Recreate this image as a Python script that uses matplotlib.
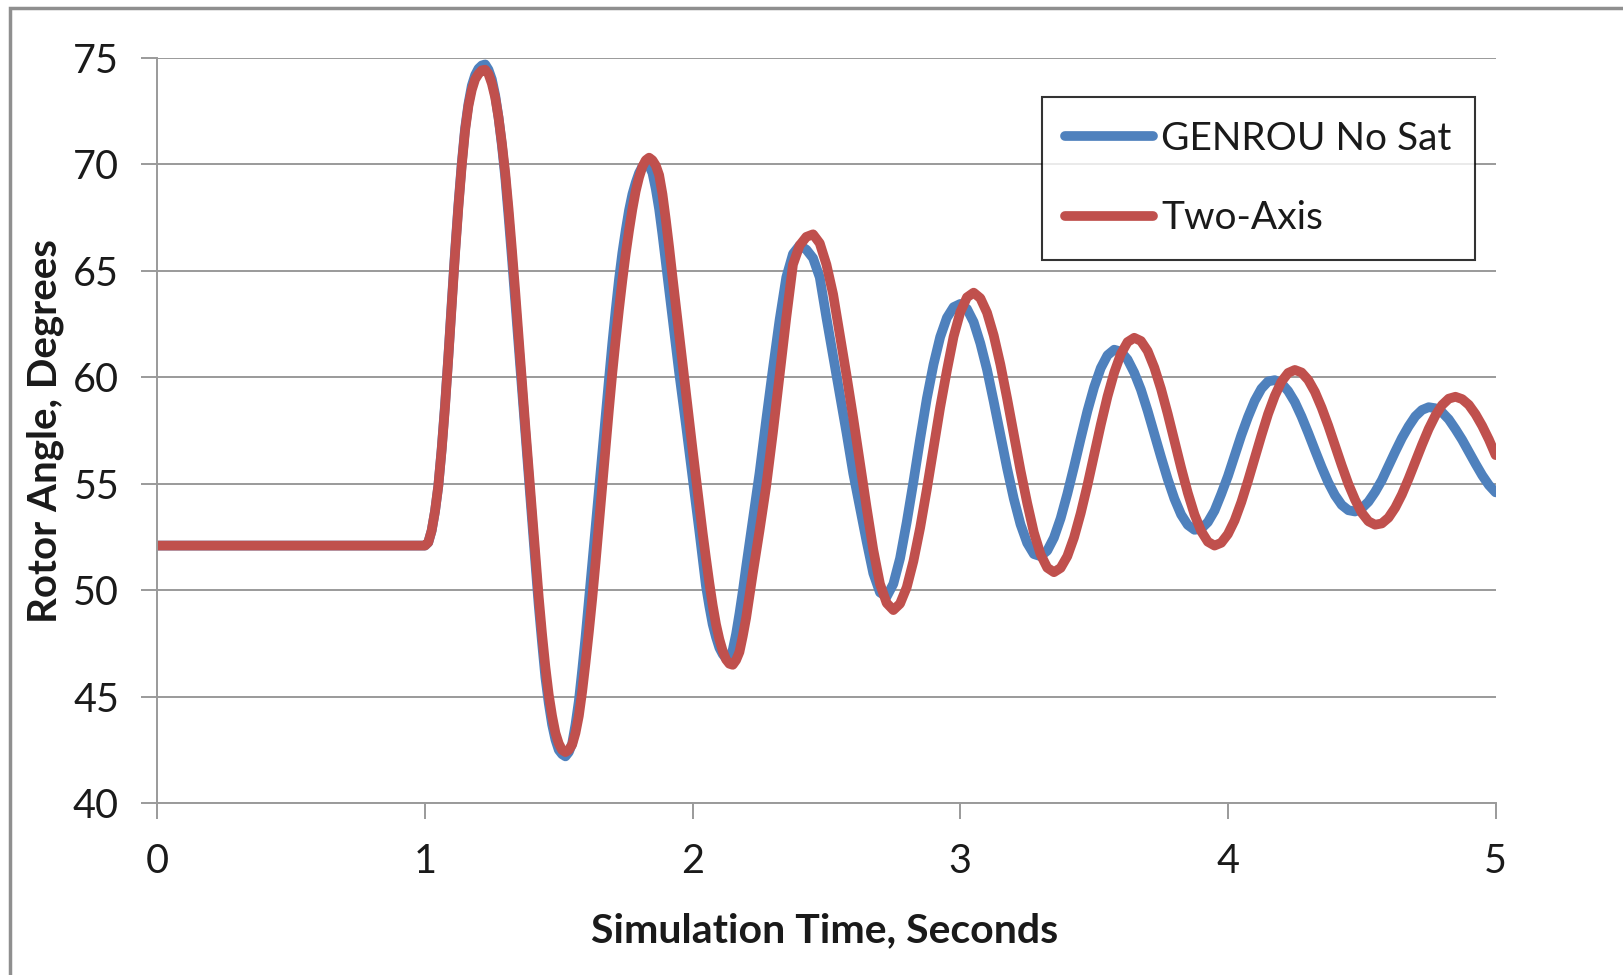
import matplotlib.pyplot as plt
from matplotlib.patches import Rectangle

plt.rcParams['font.family'] = ['Lato', 'DejaVu Sans']

# sample times in seconds: one point before the fault, every 0.0125 s over the
# big first swings (1.0 - 2.1875), then every 0.025 s up to 5 s
time_s = ([0.0]
          + [round(1.0 + 0.0125 * i, 4) for i in range(96)]
          + [round(2.2 + 0.025 * i, 3) for i in range(113)])

# rotor angle in degrees
genrou_no_sat = [
    52.1,
    # 1.0 - 2.1875, step 0.0125 (one row = 0.1 s)
    52.1, 52.25, 52.8, 53.7, 54.9, 56.65, 58.7, 61.0,
    63.5, 65.9, 68.1, 70.05, 71.7, 72.85, 73.7, 74.2,
    74.5, 74.65, 74.7, 74.45, 74.0, 73.25, 72.2, 70.9,
    69.4, 67.55, 65.6, 63.55, 61.5, 59.45, 57.4, 55.35,
    53.3, 51.3, 49.3, 47.55, 45.9, 44.7, 43.7, 42.98,
    42.5, 42.3, 42.2, 42.4, 42.8, 43.7, 44.8, 46.25,
    47.8, 49.5, 51.2, 52.95, 54.7, 56.45, 58.2, 59.9,
    61.6, 63.15, 64.6, 65.85, 66.9, 67.85, 68.6, 69.15,
    69.6, 69.9, 70.05, 69.95, 69.6, 68.85, 67.9, 66.7,
    65.4, 64.1, 62.8, 61.5, 60.2, 59.0, 57.8, 56.55,
    55.3, 54.05, 52.8, 51.5, 50.2, 49.25, 48.4, 47.8,
    47.3, 47.0, 46.8, 46.85, 47.2, 47.95, 48.9, 49.95,
    # 2.2 - 5.0, step 0.025 (one row = 0.2 s)
    51.1, 53.3, 55.5, 58.0, 60.4, 62.7, 64.7, 65.8,
    66.2, 66.0, 65.6, 64.7, 62.8, 61.0, 59.2, 57.4,
    55.5, 53.9, 52.3, 50.8, 49.9, 49.7, 50.3, 51.5,
    53.2, 55.1, 57.1, 59.0, 60.6, 61.9, 62.8, 63.3,
    63.45, 63.22, 62.6, 61.6, 60.36, 58.86, 57.29, 55.73,
    54.3, 53.1, 52.22, 51.7, 51.6, 51.86, 52.47, 53.38,
    54.53, 55.8, 57.13, 58.42, 59.54, 60.44, 61.04, 61.3,
    61.21, 60.84, 60.22, 59.42, 58.43, 57.34, 56.26, 55.22,
    54.3, 53.56, 53.07, 52.84, 52.89, 53.2, 53.74, 54.52,
    55.36, 56.32, 57.28, 58.14, 58.9, 59.47, 59.81, 59.87,
    59.72, 59.36, 58.84, 58.16, 57.39, 56.58, 55.79, 55.06,
    54.46, 54.01, 53.76, 53.7, 53.85, 54.16, 54.62, 55.17,
    55.84, 56.51, 57.15, 57.7, 58.17, 58.47, 58.6, 58.55,
    58.36, 58.03, 57.57, 57.07, 56.5, 55.94, 55.4, 54.94,
    54.6,
]

two_axis = [
    52.1,
    # 1.0 - 2.1875, step 0.0125
    52.1, 52.25, 52.8, 53.7, 54.9, 56.6, 58.6, 60.95,
    63.4, 65.8, 68.0, 69.95, 71.6, 72.75, 73.5, 74.0,
    74.25, 74.42, 74.45, 74.25, 73.8, 73.15, 72.2, 71.0,
    69.6, 67.9, 66.0, 64.0, 61.9, 59.8, 57.7, 55.7,
    53.7, 51.65, 49.7, 47.95, 46.4, 45.1, 44.1, 43.3,
    42.8, 42.5, 42.4, 42.5, 42.75, 43.3, 44.1, 45.25,
    46.6, 48.05, 49.6, 51.3, 53.1, 54.9, 56.7, 58.5,
    60.2, 61.75, 63.2, 64.55, 65.8, 66.9, 67.9, 68.75,
    69.4, 69.9, 70.2, 70.32, 70.2, 69.95, 69.5, 68.6,
    67.4, 66.1, 64.7, 63.35, 62.0, 60.65, 59.3, 57.95,
    56.6, 55.3, 54.0, 52.7, 51.5, 50.35, 49.3, 48.4,
    47.7, 47.15, 46.75, 46.55, 46.5, 46.72, 47.1, 47.85,
    # 2.2 - 5.0, step 0.025
    48.7, 50.8, 52.8, 54.9, 57.4, 60.1, 62.8, 65.3,
    66.2, 66.6, 66.72, 66.3, 65.3, 63.9, 62.0, 60.1,
    58.1, 56.0, 53.9, 51.9, 50.3, 49.4, 49.07, 49.37,
    50.14, 51.37, 52.93, 54.74, 56.68, 58.6, 60.32, 61.91,
    63.06, 63.76, 63.98, 63.72, 63.04, 61.97, 60.6, 59.01,
    57.31, 55.63, 54.1, 52.71, 51.69, 51.06, 50.85, 51.05,
    51.6, 52.48, 53.62, 54.93, 56.36, 57.78, 59.1, 60.22,
    61.1, 61.66, 61.86, 61.71, 61.24, 60.46, 59.46, 58.29,
    57.02, 55.76, 54.58, 53.56, 52.78, 52.28, 52.1, 52.23,
    52.64, 53.28, 54.14, 55.14, 56.2, 57.27, 58.28, 59.13,
    59.8, 60.21, 60.35, 60.23, 59.88, 59.32, 58.58, 57.73,
    56.8, 55.87, 54.99, 54.25, 53.64, 53.24, 53.08, 53.14,
    53.41, 53.88, 54.5, 55.24, 56.03, 56.83, 57.58, 58.21,
    58.7, 59.0, 59.09, 58.98, 58.71, 58.27, 57.72, 57.08,
    56.35,
]

x_ticks = [0, 1, 2, 3, 4, 5]
y_ticks = [40, 45, 50, 55, 60, 65, 70, 75]

grey = '#9a9a9a'
text_col = '#1a1a1a'

fig = plt.figure(figsize=(16.23, 9.75), dpi=100)
ax = fig.add_axes([0.0969, 0.1762, 0.8246, 0.7643])

ax.plot(time_s, genrou_no_sat, color='#4F81BD', lw=7, label='GENROU No Sat',
        solid_joinstyle='round', solid_capstyle='round')
ax.plot(time_s, two_axis, color='#C0504D', lw=7, label='Two-Axis',
        solid_joinstyle='round', solid_capstyle='round')

ax.set_xlim(0, 5)
ax.set_ylim(40, 75)
ax.set_xticks(x_ticks)
ax.set_yticks(y_ticks)
ax.yaxis.grid(True, color=grey, lw=1.4)
ax.set_axisbelow(True)

for side in ['top', 'right']:
    ax.spines[side].set_visible(False)
for side in ['left', 'bottom']:
    ax.spines[side].set_color(grey)
    ax.spines[side].set_linewidth(1.4)

ax.tick_params(axis='both', color=grey, width=1.4, length=11.5,
               labelsize=28.5, labelcolor=text_col)
ax.tick_params(axis='x', pad=17.5)
ax.tick_params(axis='y', pad=16)

fig.text(0.028, 0.558, 'Rotor Angle, Degrees', rotation=90, ha='center', va='center',
         fontsize=29, fontweight='bold', color=text_col)
fig.text(0.508, 0.0456, 'Simulation Time, Seconds', ha='center', va='center',
         fontsize=29.5, fontweight='bold', color=text_col)

leg = ax.legend(loc='upper left', bbox_to_anchor=(0.642, 0.9002), bbox_transform=fig.transFigure,
                fontsize=28, frameon=True, fancybox=False, edgecolor='black',
                handlelength=2.26, handletextpad=0.2, labelspacing=1.12,
                borderpad=0.6, borderaxespad=0)
leg.get_frame().set_linewidth(1.5)
for t in leg.get_texts():
    t.set_color(text_col)

# grey outer frame of the chart area (only left and top edges show in the crop)
fig.add_artist(Rectangle((0.0064, -0.5), 2, 1.4915, transform=fig.transFigure,
                         fill=False, edgecolor='#8f8f8f', lw=2.5))

fig.savefig('out.png', dpi=100)
